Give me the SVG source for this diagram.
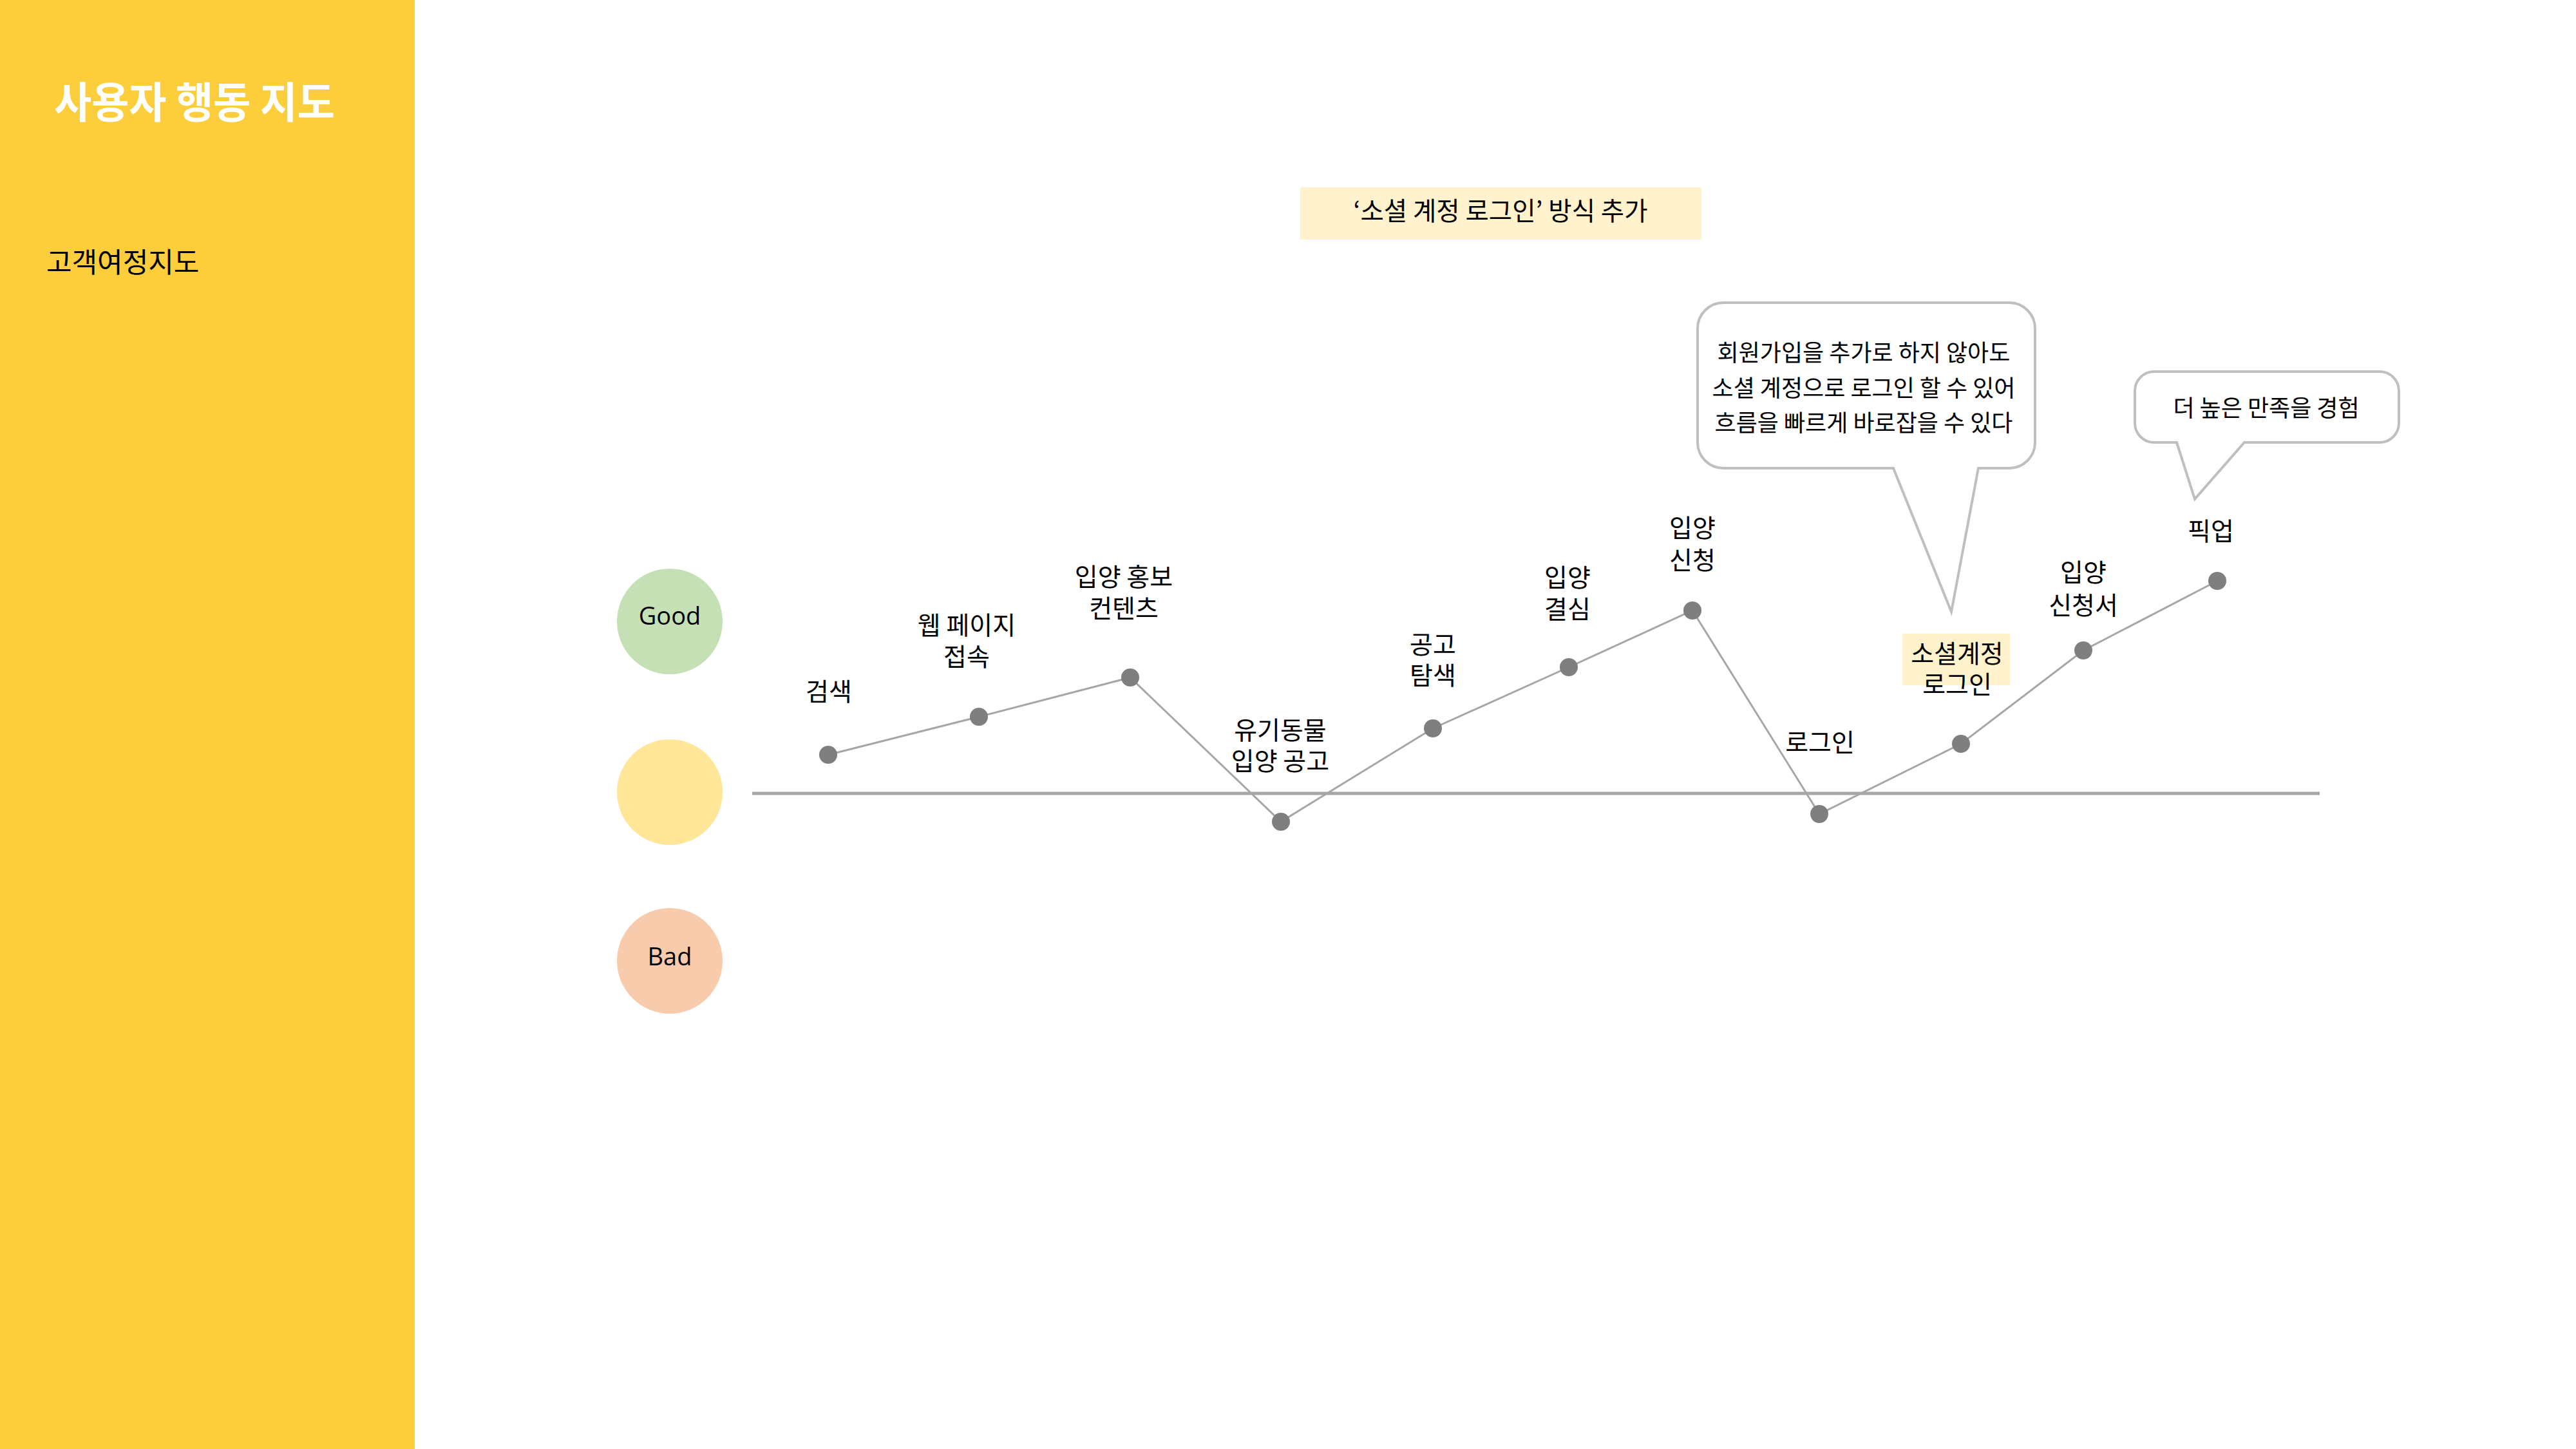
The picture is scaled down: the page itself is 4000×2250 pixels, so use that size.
<svg xmlns="http://www.w3.org/2000/svg" width="4000" height="2250" viewBox="0 0 4000 2250">
<style>
.kr{font-family:"Noto Sans CJK KR","Noto Sans CJK SC",sans-serif;}
.lbl{font-family:"Noto Sans CJK KR","Noto Sans CJK SC",sans-serif;font-size:39px;fill:#000;text-anchor:middle;}
.cal{font-family:"Noto Sans CJK KR","Noto Sans CJK SC",sans-serif;font-size:36px;fill:#000;text-anchor:middle;}
.emo{font-family:"Open Sans","Noto Sans",sans-serif;font-size:38px;fill:#000;text-anchor:middle;}
.dot{fill:#7F7F7F;}
.bubble{fill:#FFFFFF;stroke:#BFBFBF;stroke-width:4;stroke-linejoin:miter;}
.conn{fill:none;stroke:#A6A6A6;stroke-width:3;}
</style>
<rect x="0" y="0" width="4000" height="2250" fill="#FFFFFF"/>
<g id="sidebar">
<rect x="0" y="0" width="644" height="2250" fill="#FCCE3C"/>
<text class="kr" x="84" y="183" font-size="66" font-weight="bold" fill="#FFFFFF" textLength="436" lengthAdjust="spacingAndGlyphs">사용자 행동 지도</text>
<text class="kr" x="72" y="423" font-size="43" fill="#000000">고객여정지도</text>
</g>
<g id="banner">
<rect x="2019" y="291" width="623" height="81" fill="#FFF2CC"/>
<text class="kr" x="2330" y="342" font-size="39.5" text-anchor="middle" fill="#000000">‘소셜 계정 로그인’ 방식 추가</text>
</g>
<g id="emotion-good">
<circle cx="1040" cy="965" r="82" fill="#C5E0B4"/>
<text class="emo" x="1040" y="970">Good</text>
</g>
<g id="emotion-neutral">
<circle cx="1040" cy="1230" r="82" fill="#FFE699"/>
</g>
<g id="emotion-bad">
<circle cx="1040" cy="1492" r="82" fill="#F8CBAD"/>
<text class="emo" x="1040" y="1499">Bad</text>
</g>
<g id="connectors">
<line x1="1168" y1="1232" x2="3602" y2="1232" stroke="#A6A6A6" stroke-width="5"/>
<polyline class="conn" points="1286,1172 1520,1113 1755,1052 1989,1276 2225,1131 2436,1036 2628,948 2825,1264 3045,1155 3235,1010 3443,902"/>
</g>
<g id="n1"><circle class="dot" cx="1286" cy="1172" r="14"/><text class="lbl" x="1287" y="1088">검색</text></g>
<g id="n2"><circle class="dot" cx="1520" cy="1113" r="14"/><text class="lbl" x="1501" y="985">웹 페이지<tspan x="1501" dy="49">접속</tspan></text></g>
<g id="n3"><circle class="dot" cx="1755" cy="1052" r="14"/><text class="lbl" x="1745" y="910">입양 홍보<tspan x="1745" dy="49">컨텐츠</tspan></text></g>
<g id="n4"><circle class="dot" cx="1989" cy="1276" r="14"/><text class="lbl" x="1988" y="1148">유기동물<tspan x="1988" dy="48">입양 공고</tspan></text></g>
<g id="n5"><circle class="dot" cx="2225" cy="1131" r="14"/><text class="lbl" x="2225" y="1015">공고<tspan x="2225" dy="48">탐색</tspan></text></g>
<g id="n6"><circle class="dot" cx="2436" cy="1036" r="14"/><text class="lbl" x="2434" y="911">입양<tspan x="2434" dy="49">결심</tspan></text></g>
<g id="n7"><circle class="dot" cx="2628" cy="948" r="14"/><text class="lbl" x="2628" y="834">입양<tspan x="2628" dy="50">신청</tspan></text></g>
<g id="n8"><circle class="dot" cx="2825" cy="1264" r="14"/><text class="lbl" x="2826" y="1167">로그인</text></g>
<g id="n9"><rect x="2954" y="984" width="167" height="80" fill="#FFF2CC"/><circle class="dot" cx="3045" cy="1155" r="14"/><text class="lbl" x="3039" y="1029">소셜계정<tspan x="3039" dy="48">로그인</tspan></text></g>
<g id="n10"><circle class="dot" cx="3235" cy="1010" r="14"/><text class="lbl" x="3235" y="903">입양<tspan x="3235" dy="51">신청서</tspan></text></g>
<g id="n11"><circle class="dot" cx="3443" cy="902" r="14"/><text class="lbl" x="3433" y="839">픽업</text></g>
<g id="callout-social">
<path class="bubble" d="M2676,470 H3120 A40,40 0 0 1 3160,510 V687 A40,40 0 0 1 3120,727 H3072 L3030,950 L2940,727 H2676 A40,40 0 0 1 2636,687 V510 A40,40 0 0 1 2676,470 Z"/>
<text class="cal" x="2894" y="561">회원가입을 추가로 하지 않아도</text>
<text class="cal" x="2894" y="616">소셜 계정으로 로그인 할 수 있어</text>
<text class="cal" x="2894" y="670">흐름을 빠르게 바로잡을 수 있다</text>
</g>
<g id="callout-pickup">
<path class="bubble" d="M3345,577 H3695 A30,30 0 0 1 3725,607 V657 A30,30 0 0 1 3695,687 H3485 L3408,775 L3380,687 H3345 A30,30 0 0 1 3315,657 V607 A30,30 0 0 1 3345,577 Z"/>
<text class="cal" x="3519" y="647">더 높은 만족을 경험</text>
</g>
</svg>
